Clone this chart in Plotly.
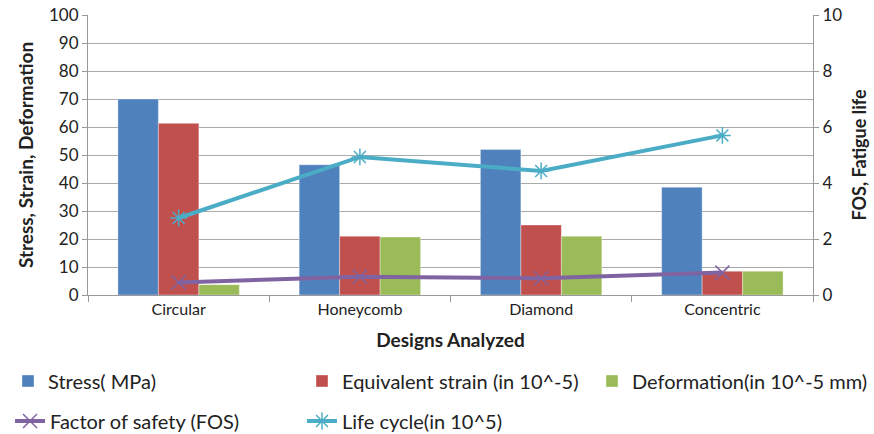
import plotly.graph_objects as go

categories = ["Circular", "Honeycomb", "Diamond", "Concentric"]
stress = [70, 46.5, 52, 38.5]
strain = [61.3, 21, 25, 8.5]
deformation = [3.7, 20.7, 21, 8.5]
fos = [0.45, 0.65, 0.6, 0.8]
life_cycle = [2.75, 4.93, 4.43, 5.7]

left_ticks = list(range(0, 101, 10))
right_ticks = list(range(0, 11, 2))

FONT = "Lato, Carlito, Arial"
W, H = 874, 434

fig = go.Figure()
bar_line = dict(color="rgba(255,255,255,0.6)", width=0.6)
fig.add_trace(go.Bar(x=categories, y=stress, name="Stress( MPa)",
                     marker=dict(color="#4f81bd", line=bar_line), legend="legend"))
fig.add_trace(go.Bar(x=categories, y=strain, name="Equivalent strain (in 10^-5)",
                     marker=dict(color="#c0504d", line=bar_line), legend="legend2"))
fig.add_trace(go.Bar(x=categories, y=deformation, name="Deformation(in 10^-5 mm)",
                     marker=dict(color="#9bbb59", line=bar_line), legend="legend3"))
fig.add_trace(go.Scatter(x=categories, y=fos, name="Factor of safety (FOS)", yaxis="y2",
                         mode="lines+markers",
                         line=dict(color="#8064a2", width=4),
                         marker=dict(symbol="x-thin-open", size=14,
                                     line=dict(color="#8064a2", width=1.5)),
                         legend="legend4"))
fig.add_trace(go.Scatter(x=categories, y=life_cycle, name="Life cycle(in 10^5)", yaxis="y2",
                         mode="lines+markers",
                         line=dict(color="#4bacc6", width=4),
                         marker=dict(symbol="asterisk-open", size=14,
                                     line=dict(color="#4bacc6", width=1.5)),
                         legend="legend5"))


def leg(px, py):
    return dict(orientation="h", xref="container", yref="container",
                x=px / W, y=1 - py / H, xanchor="left", yanchor="middle",
                font=dict(size=20, color="#222"), bgcolor="rgba(0,0,0,0)",
                borderwidth=0)


fig.update_layout(
    width=W, height=H,
    showlegend=True,
    margin=dict(l=88, r=61, t=15, b=139, autoexpand=False),
    paper_bgcolor="white", plot_bgcolor="white",
    font=dict(family=FONT, size=17, color="#222"),
    barmode="group", bargap=0.33, bargroupgap=0,
    xaxis=dict(
        type="category", tickson="boundaries", ticks="outside", ticklen=6,
        tickcolor="#999", showline=True, linecolor="#999", linewidth=1,
        tickfont=dict(size=16),
        title=dict(text="<b>Designs Analyzed</b>", font=dict(size=19), standoff=16),
    ),
    yaxis=dict(
        range=[0, 100], tickvals=left_ticks, ticks="outside", ticklen=5,
        tickcolor="#999", showline=True, linecolor="#999",
        showgrid=True, gridcolor="#aaa", gridwidth=1, zeroline=False,
        tickfont=dict(size=17),
        title=dict(text="<b>Stress, Strain, Deformation</b>", font=dict(size=19), standoff=10),
    ),
    yaxis2=dict(
        range=[0, 10], tickvals=right_ticks, overlaying="y", side="right",
        ticks="outside", ticklen=5, tickcolor="#999", showline=True, linecolor="#999",
        showgrid=False, zeroline=False, tickfont=dict(size=17),
        title=dict(text="<b>FOS, Fatigue life</b>", font=dict(size=18), standoff=12),
    ),
    legend=leg(8, 381),
    legend2=leg(302, 381),
    legend3=leg(592, 381),
    legend4=leg(10, 421),
    legend5=leg(302, 421),
)

fig.write_html("out.html", config={"displayModeBar": False},
               post_script="document.body.style.margin='0';")
